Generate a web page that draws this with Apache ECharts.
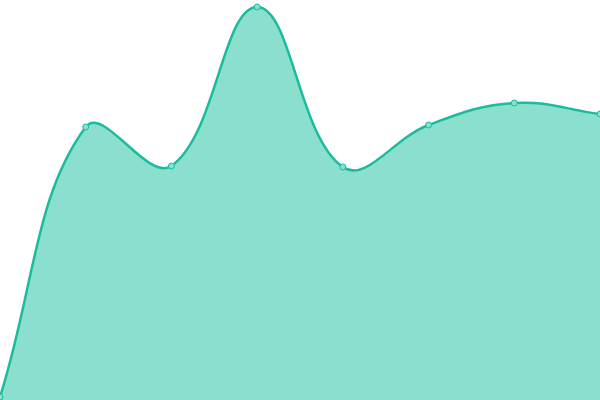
<!DOCTYPE html>
<html><head><meta charset="utf-8">
<script src="https://cdn.jsdelivr.net/npm/echarts@6/dist/echarts.min.js"></script>
<style>html,body{margin:0;padding:0;background:#fff}#c{width:600px;height:400px}</style>
</head><body><div id="c"></div>
<script>
const categories = ['1','2','3','4','5','6','7','8'];
const values = [3, 273, 234, 393, 233, 275, 297, 286];
const TENSION = 0.4;
const LINE_COLOR = '#1abc9c';
const FILL_COLOR = '#8adfcf';

function controlPoints(pts, w, h) {
  const n = pts.length;
  const cps = [];
  for (let i = 0; i < n; i++) {
    const cur = pts[i];
    const prev = pts[i - 1] || cur;
    const next = pts[i + 1] || cur;
    const d01 = Math.hypot(cur[0] - prev[0], cur[1] - prev[1]);
    const d12 = Math.hypot(next[0] - cur[0], next[1] - cur[1]);
    let s01 = d01 / (d01 + d12), s12 = d12 / (d01 + d12);
    if (!isFinite(s01)) s01 = 0; if (!isFinite(s12)) s12 = 0;
    const fa = TENSION * s01, fb = TENSION * s12;
    const clampX = x => Math.max(0, Math.min(w, x));
    const clampY = y => Math.max(0, Math.min(h, y));
    cps.push({
      p: [clampX(cur[0] - fa * (next[0] - prev[0])), clampY(cur[1] - fa * (next[1] - prev[1]))],
      n: [clampX(cur[0] + fb * (next[0] - prev[0])), clampY(cur[1] + fb * (next[1] - prev[1]))]
    });
  }
  return cps;
}

function renderItem(params, api) {
  if (params.dataIndex !== 0) return null;
  const pts = values.map((v, i) => api.coord([i, v]));
  const base = api.coord([0, 0])[1];
  const w = api.getWidth(), h = api.getHeight();
  const cps = controlPoints(pts, w, h);
  let d = 'M' + pts[0][0] + ' ' + pts[0][1];
  for (let i = 1; i < pts.length; i++) {
    d += ' C' + cps[i - 1].n[0] + ' ' + cps[i - 1].n[1] + ' ' + cps[i].p[0] + ' ' + cps[i].p[1] + ' ' + pts[i][0] + ' ' + pts[i][1];
  }
  const last = pts[pts.length - 1];
  const area = d + ' L' + last[0] + ' ' + base + ' L' + pts[0][0] + ' ' + base + ' Z';
  const children = [
    {type: 'path', shape: {pathData: area}, style: {fill: FILL_COLOR, stroke: 'none'}},
    {type: 'path', shape: {pathData: d}, style: {fill: 'none', stroke: LINE_COLOR, lineWidth: 2.5, lineJoin: 'round'}}
  ];
  pts.forEach(p => children.push({
    type: 'circle', shape: {cx: p[0], cy: p[1], r: 3},
    style: {fill: FILL_COLOR, stroke: LINE_COLOR, lineWidth: 1}
  }));
  return {type: 'group', children};
}

const chart = echarts.init(document.getElementById('c'));
chart.setOption({
  animation: false,
  grid: {left: 0, right: 0, top: 0, bottom: 0},
  xAxis: {type: 'category', data: categories, boundaryGap: false, show: false},
  yAxis: {type: 'value', min: 0, max: 400, show: false},
  series: [{
    type: 'custom',
    clip: false,
    renderItem: renderItem,
    data: values.map((v, i) => [i, v])
  }]
});
</script></body></html>
